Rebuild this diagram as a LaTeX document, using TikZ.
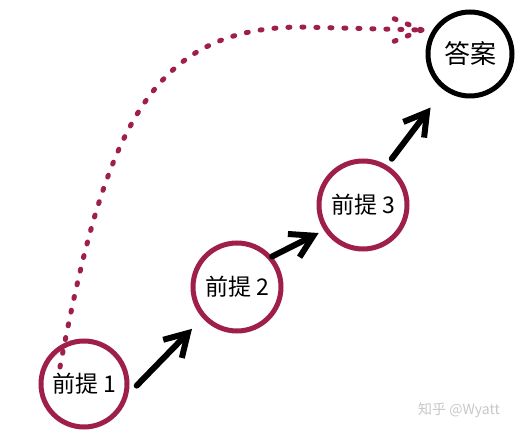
\documentclass[tikz,border=0pt]{standalone}
\usepackage{fontspec}
\newfontfamily\cjkfont{Noto Sans CJK SC}
\usetikzlibrary{arrows.meta}
\definecolor{wine}{RGB}{158,32,74}

\begin{document}
\begin{tikzpicture}[x=1pt,y=-1pt,
  premise/.style={circle,draw=wine,line width=5pt,minimum size=86pt,inner sep=0pt,
    font=\cjkfont\fontsize{23}{26}\selectfont},
  answer/.style={premise,draw=black,minimum size=84pt,font=\cjkfont\fontsize{26}{30}\selectfont},
  infer/.style={-{Straight Barb[length=22pt,width=26pt]},line width=6pt,line cap=round},
  guess/.style={wine,line width=5pt,line cap=round,dash pattern=on 2pt off 12pt}]
  \useasboundingbox (0,0) rectangle (517,435);
  \node[premise] (p1) at (84,384) {前提 1};
  \node[premise,minimum size=88pt] (p2) at (237,287) {前提 2};
  \node[premise,minimum size=88pt] (p3) at (363,205) {前提 3};
  \node[answer] (ans) at (470,54) {答案};
  \coordinate (tip) at (422,30);
  \path[infer]
    (p1.-13) edge[shorten <=12pt,shorten >=15pt] (p2.222)
    (p2.41) edge[shorten >=6pt] (p3.213)
    (p3.59) edge[shorten <=8pt,shorten >=22pt] (ans.234);
  % the leap straight to the answer
  \draw[guess] (p1.center) ++(-24,-17) .. controls ++(45,-237) and (150,28) .. (300,27) -- (tip);
  \draw[guess] (tip) -- ++(-32,-13) (tip) -- ++(-32,13);
  \node[text=black!22,font=\cjkfont\fontsize{14}{16}\selectfont] (mark) at (459,410) {知乎 @Wyatt};
\end{tikzpicture}
\end{document}
